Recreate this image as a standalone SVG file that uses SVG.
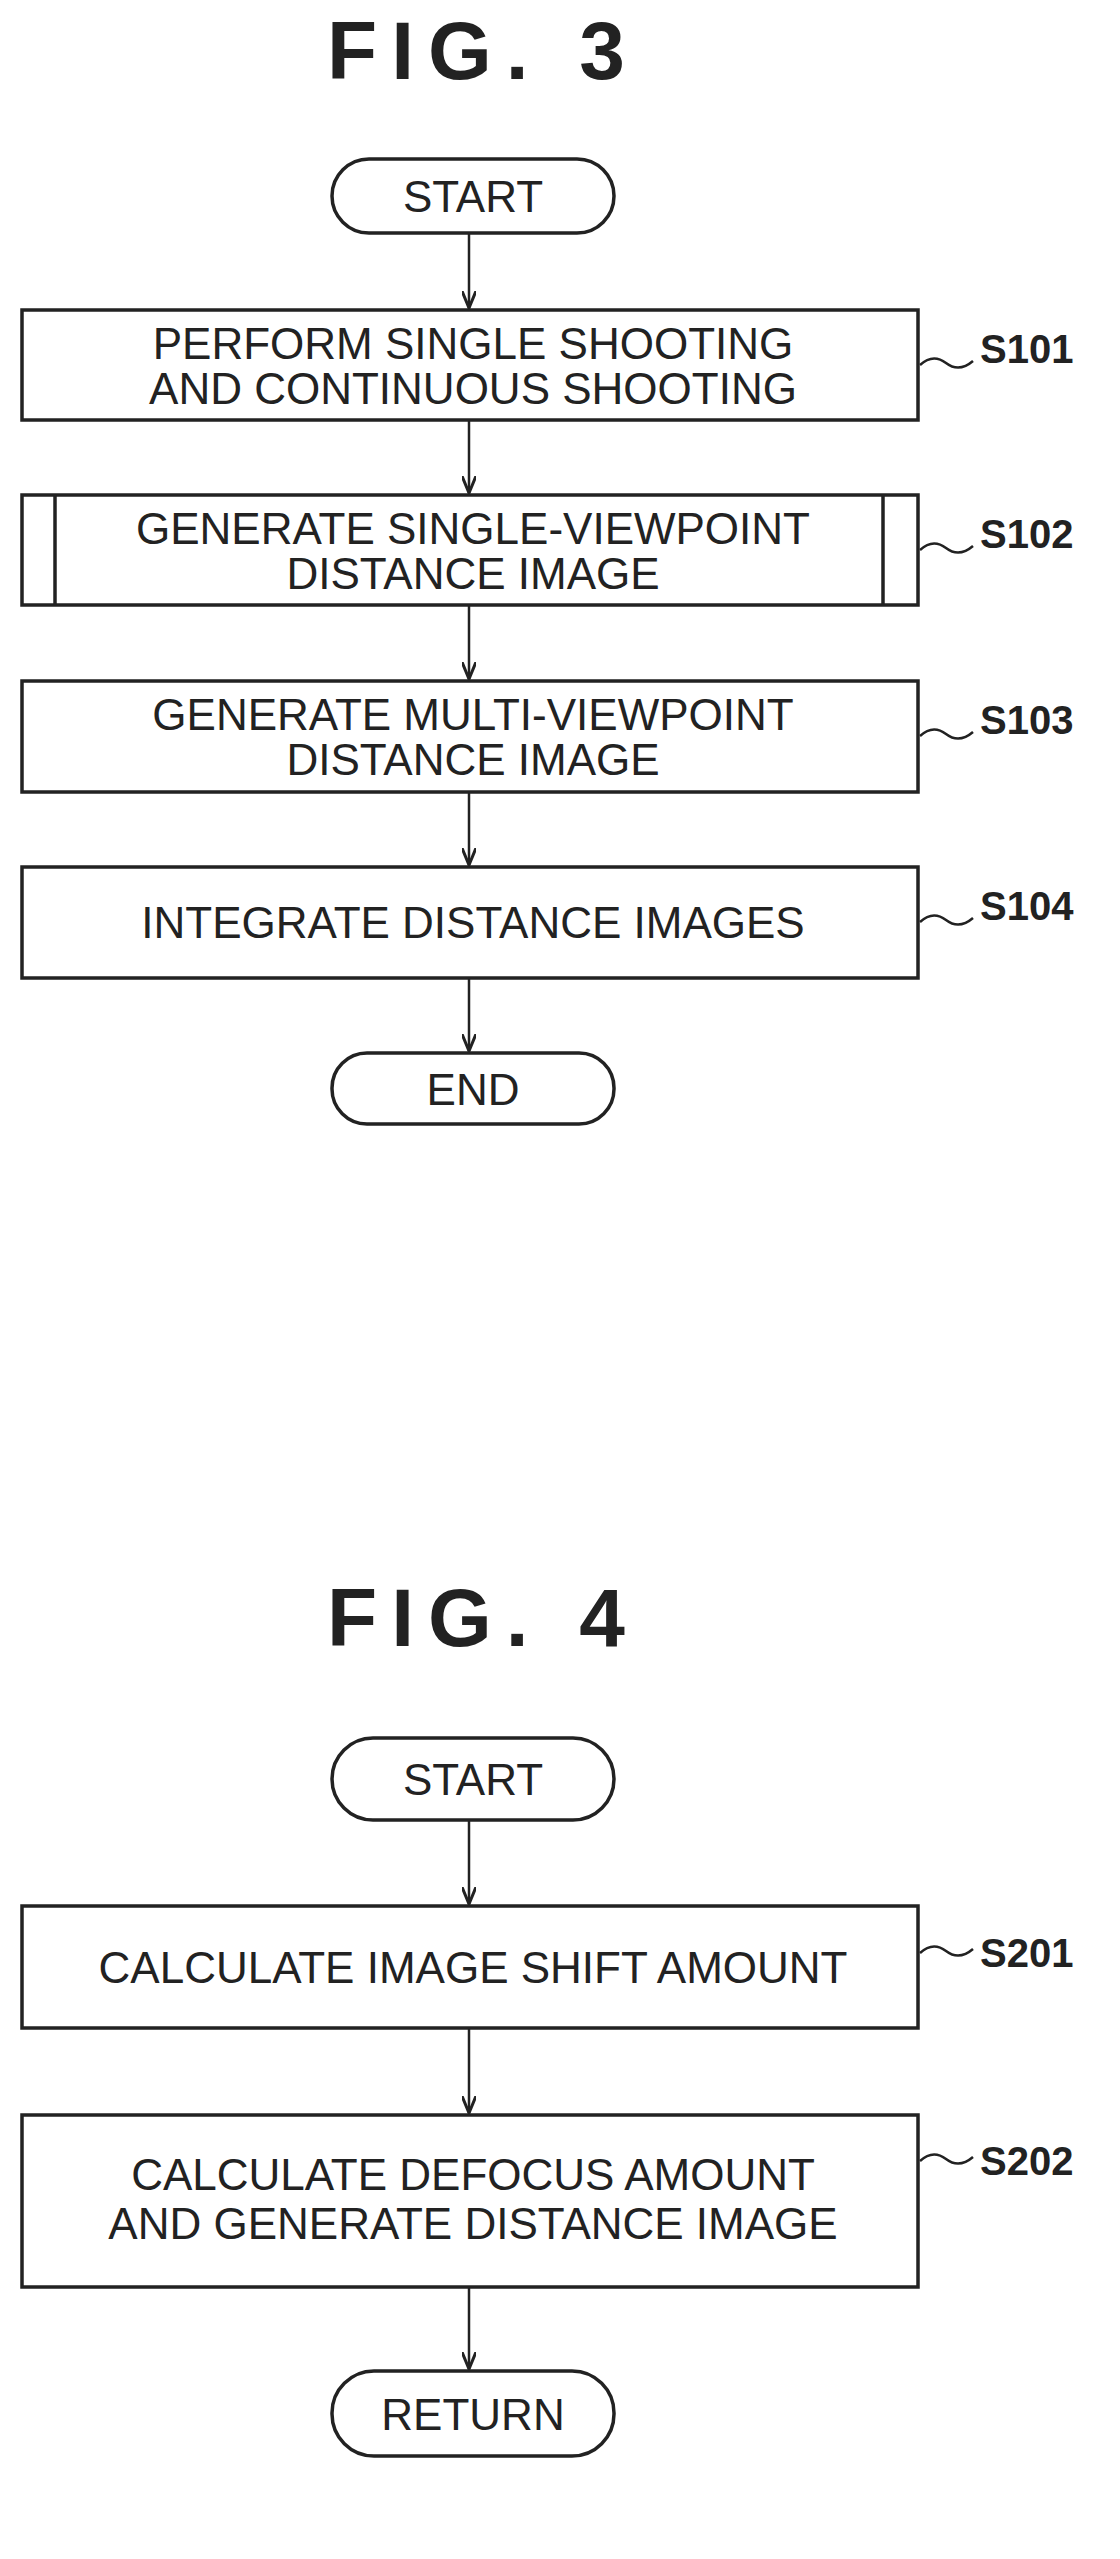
<svg xmlns="http://www.w3.org/2000/svg" width="1120" height="2559" viewBox="0 0 1120 2559">
<style>
.b{fill:#fff;stroke:#222;stroke-width:3.5}
.t{font-family:"Liberation Sans",Arial,sans-serif;font-size:44px;fill:#222;text-anchor:middle}
.h{font-family:"Liberation Sans",Arial,sans-serif;font-size:82px;font-weight:bold;fill:#222;text-anchor:middle;letter-spacing:14px}
.l{font-family:"Liberation Sans",Arial,sans-serif;font-size:40px;font-weight:bold;fill:#222}
.c{stroke:#222;stroke-width:2.5;fill:none}
</style>
<defs><marker id="a" markerWidth="18" markerHeight="14" refX="17" refY="7" orient="auto" markerUnits="userSpaceOnUse"><path d="M0,0 L17,7 L0,14" fill="none" stroke="#222" stroke-width="3"/></marker></defs>
<text class="h" x="483" y="79">FIG. 3</text>
<text class="h" x="483" y="1646">FIG. 4</text>
<g id="connectors">
<line class="c" x1="469" y1="233" x2="469" y2="308" marker-end="url(#a)"/>
<line class="c" x1="469" y1="420" x2="469" y2="493" marker-end="url(#a)"/>
<line class="c" x1="469" y1="605" x2="469" y2="679" marker-end="url(#a)"/>
<line class="c" x1="469" y1="792" x2="469" y2="865" marker-end="url(#a)"/>
<line class="c" x1="469" y1="978" x2="469" y2="1051" marker-end="url(#a)"/>
<line class="c" x1="469" y1="1820" x2="469" y2="1904" marker-end="url(#a)"/>
<line class="c" x1="469" y1="2028" x2="469" y2="2113" marker-end="url(#a)"/>
<line class="c" x1="469" y1="2287" x2="469" y2="2369" marker-end="url(#a)"/>
<path class="c" d="M920,365 q13,-12 26,-2 t27,-2"/>
<path class="c" d="M920,550 q13,-12 26,-2 t27,-2"/>
<path class="c" d="M920,736 q13,-12 26,-2 t27,-2"/>
<path class="c" d="M920,922 q13,-12 26,-2 t27,-2"/>
<path class="c" d="M920,1953 q13,-12 26,-2 t27,-2"/>
<path class="c" d="M920,2161 q13,-12 26,-2 t27,-2"/>
</g>
<g id="start1"><rect class="b" x="332" y="159" width="282" height="74" rx="37"/><text class="t" x="473" y="212">START</text></g>
<g id="s101"><rect class="b" x="22" y="310" width="896" height="110"/><text class="t" x="473" y="359">PERFORM SINGLE SHOOTING</text><text class="t" x="473" y="404">AND CONTINUOUS SHOOTING</text><text class="l" x="980" y="363">S101</text></g>
<g id="s102"><rect class="b" x="22" y="495" width="896" height="110"/><line class="b" x1="55" y1="495" x2="55" y2="605"/><line class="b" x1="883" y1="495" x2="883" y2="605"/><text class="t" x="473" y="544">GENERATE SINGLE-VIEWPOINT</text><text class="t" x="473" y="589">DISTANCE IMAGE</text><text class="l" x="980" y="548">S102</text></g>
<g id="s103"><rect class="b" x="22" y="681" width="896" height="111"/><text class="t" x="473" y="730">GENERATE MULTI-VIEWPOINT</text><text class="t" x="473" y="775">DISTANCE IMAGE</text><text class="l" x="980" y="734">S103</text></g>
<g id="s104"><rect class="b" x="22" y="867" width="896" height="111"/><text class="t" x="473" y="938">INTEGRATE DISTANCE IMAGES</text><text class="l" x="980" y="920">S104</text></g>
<g id="end"><rect class="b" x="332" y="1053" width="282" height="71" rx="35"/><text class="t" x="473" y="1105">END</text></g>
<g id="start2"><rect class="b" x="332" y="1738" width="282" height="82" rx="41"/><text class="t" x="473" y="1795">START</text></g>
<g id="s201"><rect class="b" x="22" y="1906" width="896" height="122"/><text class="t" x="473" y="1983">CALCULATE IMAGE SHIFT AMOUNT</text><text class="l" x="980" y="1967">S201</text></g>
<g id="s202"><rect class="b" x="22" y="2115" width="896" height="172"/><text class="t" x="473" y="2190">CALCULATE DEFOCUS AMOUNT</text><text class="t" x="473" y="2239">AND GENERATE DISTANCE IMAGE</text><text class="l" x="980" y="2175">S202</text></g>
<g id="return"><rect class="b" x="332" y="2371" width="282" height="85" rx="42"/><text class="t" x="473" y="2430">RETURN</text></g>
</svg>
